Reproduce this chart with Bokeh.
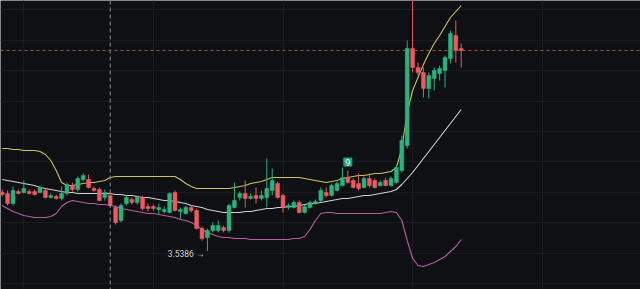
from bokeh.plotting import figure
from bokeh.models import Range1d, Span, FixedTicker, ColumnDataSource
from bokeh.embed import file_html
from bokeh.resources import INLINE
from bokeh.core.properties import value

opens = [3.656, 3.654, 3.634, 3.658, 3.656, 3.658, 3.658, 3.656, 3.660, 3.646,
         3.648, 3.644, 3.654, 3.670, 3.662, 3.682, 3.682, 3.664, 3.662, 3.646,
         3.650, 3.626, 3.600, 3.634, 3.642, 3.636, 3.646, 3.628, 3.628, 3.622,
         3.618, 3.616, 3.656, 3.618, 3.614, 3.626, 3.620, 3.584, 3.566, 3.580,
         3.580, 3.586, 3.580, 3.626, 3.646, 3.654, 3.644, 3.650, 3.644, 3.646,
         3.660, 3.674, 3.650, 3.626, 3.626, 3.636, 3.616, 3.626, 3.634, 3.640,
         3.656, 3.650, 3.660, 3.670, 3.686, 3.680, 3.674, 3.666, 3.684, 3.680,
         3.670, 3.680, 3.670, 3.676, 3.700, 3.750, 3.944, 3.906, 3.896, 3.864,
         3.884, 3.894, 3.900, 3.924, 3.970, 3.944]

highs = [3.662, 3.660, 3.668, 3.662, 3.680, 3.662, 3.662, 3.670, 3.664, 3.654,
         3.652, 3.668, 3.676, 3.676, 3.688, 3.694, 3.692, 3.668, 3.666, 3.662,
         3.654, 3.630, 3.634, 3.650, 3.646, 3.650, 3.650, 3.634, 3.632, 3.634,
         3.628, 3.656, 3.660, 3.626, 3.630, 3.630, 3.624, 3.588, 3.584, 3.596,
         3.600, 3.590, 3.634, 3.676, 3.658, 3.680, 3.654, 3.666, 3.660, 3.724,
         3.704, 3.678, 3.654, 3.634, 3.640, 3.640, 3.632, 3.640, 3.642, 3.666,
         3.666, 3.674, 3.678, 3.706, 3.700, 3.684, 3.694, 3.688, 3.694, 3.684,
         3.680, 3.686, 3.688, 3.710, 3.770, 3.960, 4.050, 3.916, 3.906, 3.896,
         3.906, 3.910, 3.930, 3.980, 4.000, 3.954]

lows = [3.648, 3.630, 3.630, 3.652, 3.654, 3.652, 3.650, 3.654, 3.644, 3.644,
        3.642, 3.640, 3.650, 3.658, 3.658, 3.678, 3.664, 3.658, 3.638, 3.640,
        3.626, 3.592, 3.596, 3.630, 3.632, 3.632, 3.620, 3.618, 3.620, 3.612,
        3.614, 3.614, 3.618, 3.604, 3.612, 3.616, 3.582, 3.560, 3.5386, 3.576,
        3.576, 3.576, 3.576, 3.624, 3.640, 3.626, 3.642, 3.634, 3.640, 3.626,
        3.650, 3.644, 3.616, 3.622, 3.624, 3.614, 3.614, 3.624, 3.632, 3.636,
        3.646, 3.648, 3.658, 3.668, 3.674, 3.664, 3.660, 3.664, 3.666, 3.664,
        3.668, 3.668, 3.668, 3.674, 3.696, 3.744, 3.896, 3.890, 3.846, 3.844,
        3.860, 3.880, 3.866, 3.914, 3.916, 3.906]

closes = [3.652, 3.634, 3.660, 3.654, 3.664, 3.654, 3.652, 3.666, 3.646, 3.650,
          3.644, 3.654, 3.672, 3.662, 3.684, 3.690, 3.666, 3.660, 3.640, 3.656,
          3.630, 3.596, 3.630, 3.646, 3.636, 3.646, 3.624, 3.624, 3.624, 3.626,
          3.622, 3.654, 3.620, 3.622, 3.626, 3.620, 3.584, 3.564, 3.580, 3.590,
          3.590, 3.580, 3.630, 3.640, 3.654, 3.644, 3.648, 3.644, 3.650, 3.664,
          3.680, 3.646, 3.626, 3.630, 3.636, 3.616, 3.628, 3.636, 3.638, 3.660,
          3.650, 3.670, 3.674, 3.686, 3.676, 3.666, 3.664, 3.684, 3.670, 3.666,
          3.676, 3.670, 3.684, 3.706, 3.760, 3.944, 3.906, 3.896, 3.864, 3.890,
          3.900, 3.904, 3.926, 3.974, 3.940, 3.940]

boll_upper = [3.744, 3.744, 3.742, 3.742, 3.740, 3.740, 3.740, 3.738, 3.732, 3.720,
              3.700, 3.676, 3.670, 3.670, 3.672, 3.674, 3.676, 3.676, 3.678, 3.680,
              3.686, 3.688, 3.688, 3.688, 3.688, 3.688, 3.688, 3.688, 3.688, 3.688,
              3.688, 3.688, 3.688, 3.682, 3.674, 3.668, 3.664, 3.664, 3.664, 3.664,
              3.664, 3.664, 3.664, 3.666, 3.668, 3.670, 3.674, 3.676, 3.678, 3.682,
              3.686, 3.686, 3.686, 3.686, 3.686, 3.686, 3.684, 3.682, 3.680, 3.678,
              3.676, 3.678, 3.680, 3.684, 3.686, 3.688, 3.690, 3.690, 3.692, 3.694,
              3.694, 3.696, 3.698, 3.706, 3.744, 3.816, 3.860, 3.886, 3.912, 3.934,
              3.954, 3.970, 3.988, 4.006, 4.018, 4.030]

boll_mid = [3.682, 3.680, 3.678, 3.676, 3.674, 3.672, 3.670, 3.666, 3.664, 3.662,
            3.660, 3.658, 3.656, 3.656, 3.654, 3.654, 3.654, 3.654, 3.654, 3.654,
            3.654, 3.652, 3.652, 3.650, 3.650, 3.648, 3.646, 3.646, 3.644, 3.642,
            3.640, 3.640, 3.638, 3.636, 3.634, 3.630, 3.628, 3.626, 3.622, 3.620,
            3.618, 3.616, 3.616, 3.616, 3.616, 3.618, 3.618, 3.620, 3.622, 3.624,
            3.624, 3.626, 3.626, 3.628, 3.628, 3.630, 3.632, 3.634, 3.634, 3.636,
            3.638, 3.640, 3.642, 3.644, 3.644, 3.646, 3.648, 3.650, 3.650, 3.652,
            3.654, 3.656, 3.658, 3.662, 3.672, 3.684, 3.696, 3.710, 3.724, 3.738,
            3.752, 3.766, 3.780, 3.794, 3.808, 3.822]

boll_lower = [3.630, 3.624, 3.618, 3.614, 3.610, 3.608, 3.606, 3.606, 3.606, 3.608,
              3.614, 3.628, 3.636, 3.640, 3.638, 3.636, 3.634, 3.634, 3.632, 3.632,
              3.630, 3.628, 3.624, 3.622, 3.620, 3.618, 3.616, 3.614, 3.614, 3.612,
              3.610, 3.608, 3.606, 3.602, 3.600, 3.596, 3.590, 3.582, 3.576, 3.572,
              3.568, 3.566, 3.566, 3.564, 3.564, 3.564, 3.562, 3.562, 3.562, 3.562,
              3.562, 3.562, 3.562, 3.562, 3.564, 3.564, 3.568, 3.582, 3.600, 3.614,
              3.616, 3.616, 3.614, 3.614, 3.614, 3.614, 3.614, 3.614, 3.614, 3.614,
              3.614, 3.616, 3.618, 3.616, 3.600, 3.560, 3.524, 3.510, 3.508, 3.512,
              3.516, 3.522, 3.528, 3.538, 3.548, 3.562]

signal_index = [64]
signal_text = ["9"]
crosshair_index = 20

n = len(opens)
idx = list(range(n))

BG = "#0f1014"
UP = "#2bb27f"
DOWN = "#ee5a62"

colors = [UP if c >= o else DOWN for o, c in zip(opens, closes)]
src = ColumnDataSource(dict(
    x=idx, o=opens, h=highs, l=lows, c=closes,
    top=[max(o, c) for o, c in zip(opens, closes)],
    bot=[min(o, c) for o, c in zip(opens, closes)],
    color=colors,
))

p = figure(width=640, height=289, output_backend="svg", toolbar_location=None,
           x_range=Range1d(-0.315, 118.2), y_range=Range1d(3.462, 4.04),
           x_axis_location=None, y_axis_location=None, min_border=0,
           background_fill_color=BG, border_fill_color=BG, outline_line_color=None)

p.xgrid.ticker = FixedTicker(ticks=[4, 28, 52, 76, 100])
p.ygrid.ticker = FixedTicker(ticks=[3.839 + 0.0608 * k for k in range(-6, 4)])
p.xgrid.grid_line_color = "#191b20"
p.ygrid.grid_line_color = "#191b20"

p.add_layout(Span(location=crosshair_index, dimension="height",
                  line_color="#8c8f96", line_dash="4 3", line_width=1))
p.add_layout(Span(location=closes[-1], dimension="width",
                  line_color="#a0553f", line_dash="3 3", line_width=1))

p.line(idx, boll_upper, line_color="#c9c263", line_width=1.1)
p.line(idx, boll_mid, line_color="#d2d2d2", line_width=1.1)
p.line(idx, boll_lower, line_color="#b85ea4", line_width=1.1)

p.segment(x0="x", y0="h", x1="x", y1="l", color="color", line_width=1, source=src)
p.vbar(x="x", width=0.72, top="top", bottom="bot", fill_color="color",
       line_color="color", line_width=0.5, source=src)

# lowest point label
li = min(range(n), key=lambda k: lows[k])
p.text(x=[li - 0.55], y=[lows[li]], text=[f"{lows[li]:.4f} \u2192"],
       text_align="right", text_baseline="middle", y_offset=3,
       text_font=value("Roboto"), text_font_size="8.5px", text_color="#d0d0d0")

# signal marker
p.text(x=signal_index, y=[highs[k] for k in signal_index], text=signal_text,
       text_align="center", text_baseline="bottom", y_offset=-4,
       text_font=value("Roboto"), text_font_size="9px", text_color="#e6fff4",
       background_fill_color="#23a57c", padding=[2, 1], border_radius=1)

open("out.html", "w").write(file_html(p, INLINE))
